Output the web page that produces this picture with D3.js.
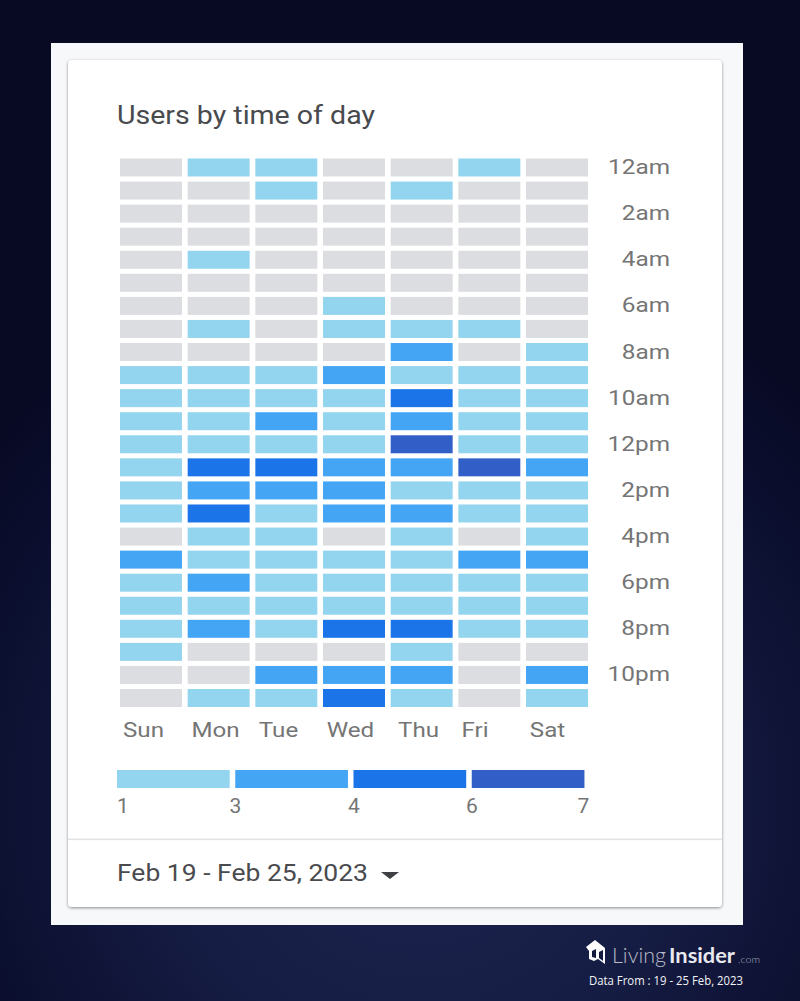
<!DOCTYPE html>
<html><head><meta charset="utf-8">
<script src="https://cdn.jsdelivr.net/npm/d3@7"></script>
<style>html,body{margin:0;padding:0;background:#0b0f30;overflow:hidden}svg{display:block}text{font-family:Roboto,sans-serif}</style>
</head><body><svg id="c" width="800" height="1001"></svg>
<script>
const days=["Sun","Mon","Tue","Wed","Thu","Fri","Sat"];
const hourLabels=["12am","2am","4am","6am","8am","10am","12pm","2pm","4pm","6pm","8pm","10pm"];
const hours=d3.range(24);
const legendTicks=[1,3,4,6,7];
const levelColors=["#dcdde1","#93d4ee","#45a5f5","#1b74e8","#315fc7"];
const users=[
[0,1,1,0,0,1,0],
[0,0,1,0,1,0,0],
[0,0,0,0,0,0,0],
[0,0,0,0,0,0,0],
[0,1,0,0,0,0,0],
[0,0,0,0,0,0,0],
[0,0,0,1,0,0,0],
[0,1,0,1,1,1,0],
[0,0,0,0,3,0,1],
[1,1,1,3,1,1,1],
[1,1,1,1,4,1,1],
[1,1,3,1,3,1,1],
[1,1,1,1,7,1,1],
[1,4,4,3,3,7,3],
[1,3,3,3,1,1,1],
[1,4,1,3,3,1,1],
[0,1,1,0,1,0,1],
[3,1,1,1,1,3,3],
[1,3,1,1,1,1,1],
[1,1,1,1,1,1,1],
[1,3,1,4,4,1,1],
[1,0,0,0,1,0,0],
[0,0,3,3,3,0,3],
[0,1,1,4,1,0,1]];

const svg=d3.select("#c");
const defs=svg.append("defs");
const g=defs.append("radialGradient").attr("id","bg").attr("gradientUnits","userSpaceOnUse")
 .attr("cx",420).attr("cy",800).attr("r",560);
g.append("stop").attr("offset",0).attr("stop-color","#1c2550");
g.append("stop").attr("offset",0.45).attr("stop-color","#161d44");
g.append("stop").attr("offset",0.85).attr("stop-color","#0a0d2c");
g.append("stop").attr("offset",1).attr("stop-color","#080a24");
const sh=defs.append("filter").attr("id","sh").attr("x","-5%").attr("y","-5%").attr("width","110%").attr("height","110%");
sh.append("feDropShadow").attr("dx",0).attr("dy",1).attr("stdDeviation",1.6).attr("flood-color","#000").attr("flood-opacity",.45);
svg.append("rect").attr("width",800).attr("height",1001).attr("fill","url(#bg)");
svg.append("rect").attr("x",51).attr("y",43).attr("width",692).attr("height",882).attr("fill","#f7f8fa");
svg.append("rect").attr("x",68).attr("y",60).attr("width",654).attr("height",847).attr("rx",4).attr("fill","#fff").attr("filter","url(#sh)");
svg.append("rect").attr("x",68).attr("y",838.5).attr("width",654).attr("height",1.6).attr("fill","#e2e3e5");

svg.append("text").attr("x",117).attr("y",124).attr("font-size",25).attr("fill","#484a4e")
 .attr("textLength",258).attr("lengthAdjust","spacingAndGlyphs").text("Users by time of day");

const x=d3.scaleBand().domain(days).range([120,588]).paddingInner(0.0842).paddingOuter(0);
const y=d3.scaleBand().domain(hours).range([158.5,707]).paddingInner(0.22).paddingOuter(0);
const color=d3.scaleThreshold().domain([1,3,4,6]).range(levelColors);

const cells=hours.flatMap(h=>days.map((d,i)=>({h,d,v:users[h][i]})));
svg.append("g").selectAll("rect").data(cells).join("rect")
 .attr("x",c=>x(c.d)).attr("y",c=>y(c.h))
 .attr("width",x.bandwidth()).attr("height",y.bandwidth())
 .attr("fill",c=>color(c.v));

const labelX=d3.scaleOrdinal().domain(days).range([143.5,215.5,278.5,350.5,418.5,475,547.5]);
svg.append("g").selectAll("text").data(days).join("text")
 .attr("transform",d=>`translate(${labelX(d)},737) scale(1.15,1)`).attr("text-anchor","middle")
 .attr("font-size",21).attr("fill","#757575").text(d=>d);

svg.append("g").selectAll("text").data(hourLabels).join("text")
 .attr("transform",(d,i)=>`translate(670,${y(i*2)+y.bandwidth()/2+6.5}) scale(1.16,1)`).attr("text-anchor","end")
 .attr("font-size",21).attr("fill","#757575").text(d=>d);

const lx=d3.scalePoint().domain(d3.range(legendTicks.length)).range([117,590]);
svg.append("g").selectAll("rect").data(d3.range(4)).join("rect")
 .attr("x",i=>lx(i)).attr("y",770).attr("width",112.7).attr("height",18)
 .attr("fill",i=>levelColors[i+1]);
const tickX=d3.scaleOrdinal().domain(legendTicks).range([123,235.5,354,472,583.5]);
svg.append("g").selectAll("text").data(legendTicks).join("text")
 .attr("x",d=>tickX(d)).attr("y",813).attr("text-anchor","middle")
 .attr("font-size",21).attr("fill","#757575").text(d=>d);

svg.append("text").attr("x",117).attr("y",881).attr("font-size",23.5).attr("fill","#4a4b4e")
 .attr("textLength",251).attr("lengthAdjust","spacingAndGlyphs").text("Feb 19 - Feb 25, 2023");
svg.append("path").attr("d",d3.line()([[381,872],[399,872],[390,879]])+"Z").attr("fill","#3f4044");

// brand mark
const logo=svg.append("g").attr("fill","#fff");
logo.append("path").attr("d","M586 947 L595 940 L605 948 L605 964 L598 959 L594 961 L589 959 L589 951Z");
logo.append("path").attr("d","M592 951 L596 949 L596 958 L592 957Z M599 952 L603 950 L603 961 L599 958Z").attr("fill","#141a3e");
svg.append("text").attr("x",612).attr("y",963).attr("font-size",22).attr("font-weight",300).attr("fill","#b9bcc8").style("font-family","Lato")
 .attr("textLength",54).attr("lengthAdjust","spacingAndGlyphs").text("Living");
svg.append("text").attr("x",669).attr("y",963).attr("font-size",21).attr("font-weight",700).attr("fill","#e8e9ee").style("font-family","Lato")
 .attr("textLength",66).attr("lengthAdjust","spacingAndGlyphs").text("Insider");
svg.append("text").attr("x",738).attr("y",963).attr("font-size",10).attr("font-weight",300).attr("fill","#a5a9ba").style("font-family","Lato")
 .attr("textLength",22).attr("lengthAdjust","spacingAndGlyphs").text(".com");
svg.append("text").attr("x",589).attr("y",985).attr("font-size",13).attr("fill","#f2f3f6").style("font-family","'Open Sans'")
 .attr("textLength",154).attr("lengthAdjust","spacingAndGlyphs").text("Data From : 19 - 25 Feb, 2023");
</script></body></html>
